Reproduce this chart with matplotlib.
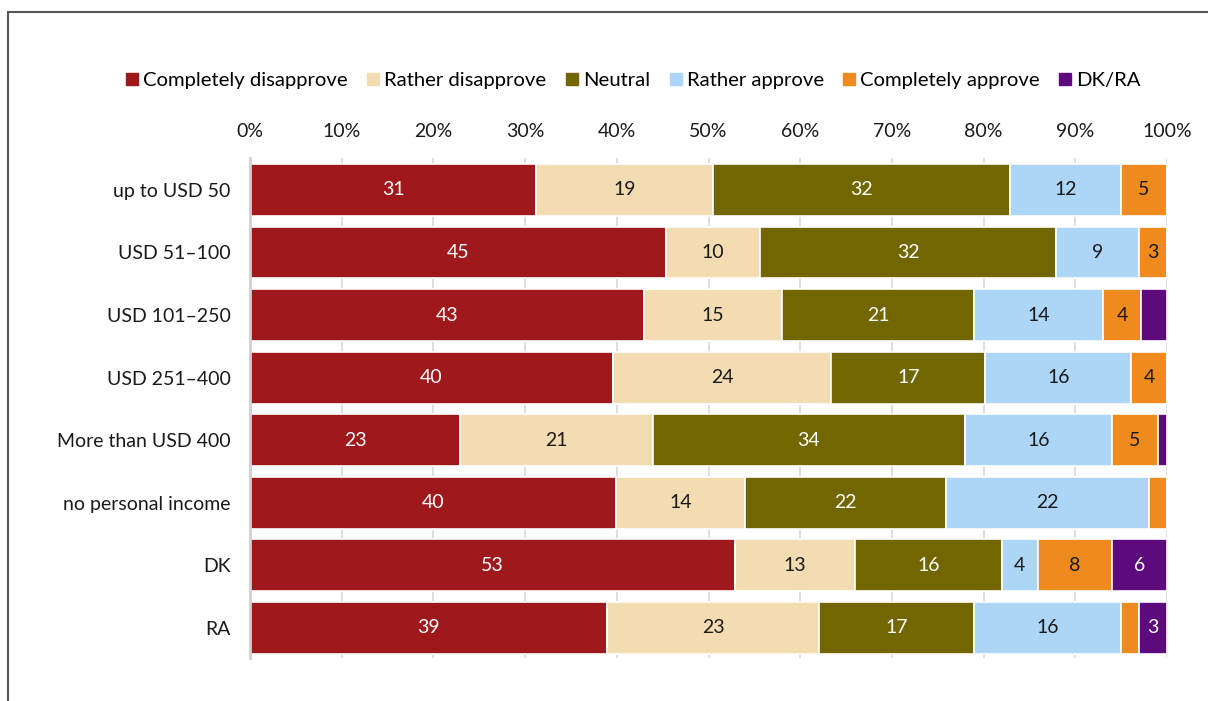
import matplotlib
matplotlib.use("Agg")
import matplotlib.pyplot as plt
from matplotlib.patches import Rectangle
from matplotlib.lines import Line2D
import numpy as np

plt.rcParams['font.family'] = ['Lato', 'DejaVu Sans']

categories = ["up to USD 50", "USD 51\u2013100", "USD 101\u2013250", "USD 251\u2013400",
              "More than USD 400", "no personal income", "DK", "RA"]
series = ["Completely disapprove", "Rather disapprove", "Neutral",
          "Rather approve", "Completely approve", "DK/RA"]

completely_disapprove = [31.2, 45.4, 43.0, 39.6, 22.9, 39.9, 52.9, 38.9]
rather_disapprove     = [19.3, 10.2, 15.0, 23.8, 21.0, 14.1, 13.1, 23.2]
neutral               = [32.4, 32.3, 21.0, 16.8, 34.1, 21.9, 16.0, 16.9]
rather_approve        = [12.1,  9.0, 14.0, 15.9, 16.0, 22.1,  3.9, 16.0]
completely_approve    = [ 5.0,  3.1,  4.2,  3.9,  5.0,  2.0,  8.1,  1.9]
dk_ra                 = [ 0.0,  0.0,  2.8,  0.0,  1.0,  0.0,  6.0,  3.1]

tick_labels = ["0%", "10%", "20%", "30%", "40%", "50%", "60%", "70%", "80%", "90%", "100%"]

colors = ["#9E181C", "#F3DCB2", "#726600", "#ACD5F8", "#EE8A1E", "#5C0A7C"]
text_colors = ["white", "#1a1a1a", "white", "#1a1a1a", "#1a1a1a", "white"]
label_min = 2.9

values = [completely_disapprove, rather_disapprove, neutral,
          rather_approve, completely_approve, dk_ra]

FS = 14

fig = plt.figure(figsize=(12.08, 7.01), dpi=100)
W, H = 1208, 701
ax = fig.add_axes([250 / W, 1 - 658 / H, (1167 - 250) / W, (658 - 158) / H])

y = np.arange(len(categories))
left = np.zeros(len(categories))
for vals, col, tcol, name in zip(values, colors, text_colors, series):
    vals = np.array(vals)
    ax.barh(y, vals, left=left, height=0.83, color=col, edgecolor="white",
            linewidth=1.2, label=name, zorder=2)
    for yi, (l, v) in enumerate(zip(left, vals)):
        if v >= label_min:
            ax.text(l + v / 2, yi, f"{round(v):d}", ha="center", va="center",
                    color=tcol, fontsize=FS, zorder=3)
    left += vals

ax.set_xlim(0, 100)
ax.set_ylim(len(categories) - 0.52, -0.51)
ax.set_xticks(np.arange(0, 101, 10))
ax.set_xticklabels(tick_labels)
ax.xaxis.tick_top()
ax.tick_params(axis="x", length=0, pad=13, labelsize=FS, colors="#1a1a1a")
ax.set_yticks(y)
ax.set_yticklabels(categories)
ax.tick_params(axis="y", length=0, pad=14, labelsize=FS, colors="#1a1a1a")
ax.grid(axis="x", color="#d9d9d9", linewidth=1.2, zorder=0)
for s in ["top", "right", "bottom"]:
    ax.spines[s].set_visible(False)
ax.spines["left"].set_color("#d0d0d0")
ax.spines["left"].set_linewidth(2)

handles = [Line2D([0], [0], marker="s", linestyle="none", markersize=8,
                  markerfacecolor=c, markeredgecolor=c) for c in colors]
fig.legend(handles, series, loc="center", bbox_to_anchor=(634 / W, 1 - 80 / H),
           ncol=6, frameon=False, fontsize=14.6, handlelength=0.5,
           handletextpad=0.3, columnspacing=1.0)

# outer frame around the chart panel
fig.patches.append(Rectangle((8 / W, -0.05), 1.1, 1 - 12 / H + 0.05,
                             transform=fig.transFigure, fill=False,
                             edgecolor="#555555", linewidth=1.5))

fig.savefig("out.png", dpi=100)
